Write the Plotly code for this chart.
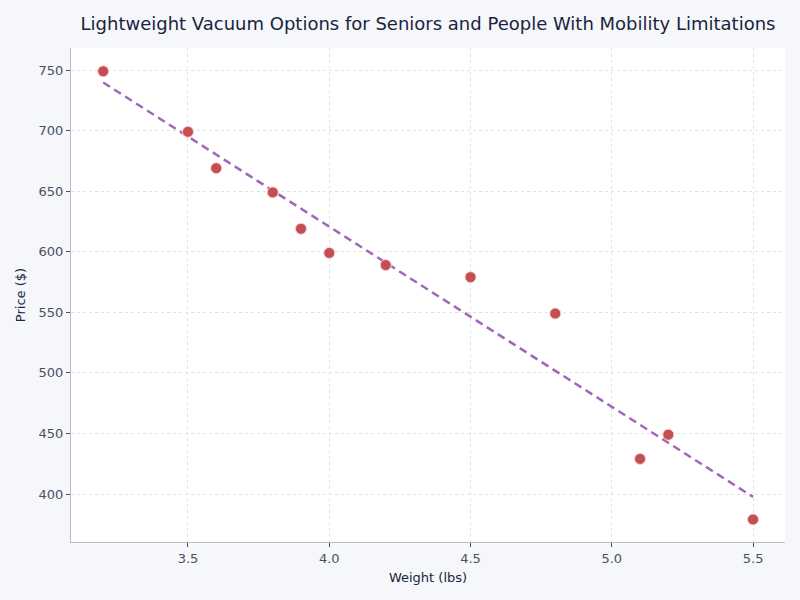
import numpy as np
import plotly.graph_objects as go

weight = [3.2, 3.5, 3.6, 3.8, 3.9, 4.0, 4.2, 4.5, 4.8, 5.1, 5.2, 5.5]
price = [749, 699, 669, 649, 619, 599, 589, 579, 549, 429, 449, 379]

slope, intercept = np.polyfit(weight, price, 1)
trend_x = [min(weight), max(weight)]
trend_y = [slope * x + intercept for x in trend_x]

fig = go.Figure()
fig.add_trace(go.Scatter(
    x=trend_x, y=trend_y, mode="lines",
    line=dict(color="#a066bd", width=2.5, dash="8px,5px"),
    showlegend=False, hoverinfo="skip"))
fig.add_trace(go.Scatter(
    x=weight, y=price, mode="markers",
    marker=dict(color="#c44e52", size=11, line=dict(color="#f5d0d0", width=1)),
    showlegend=False))

font = "DejaVu Sans, sans-serif"
fig.update_layout(
    width=800, height=600,
    margin=dict(l=71, r=15, t=48, b=58),
    paper_bgcolor="#f5f7fa", plot_bgcolor="#ffffff",
    font=dict(family=font, size=13, color="#4a5060"),
    title=dict(text="Lightweight Vacuum Options for Seniors and People With Mobility Limitations",
               x=0.5, xref="paper", xanchor="center", y=0.96, yanchor="middle",
               font=dict(family=font, size=18, color="#1a2440")),
    xaxis=dict(range=[3.086, 5.613], tickvals=[3.5, 4.0, 4.5, 5.0, 5.5],
               ticktext=["3.5", "4.0", "4.5", "5.0", "5.5"],
               title=dict(text="Weight (lbs)", font=dict(color="#1a2440", size=13), standoff=8),
               showgrid=True, gridcolor="#e2e2e2", griddash="3px,3px", gridwidth=1,
               showline=True, linecolor="#b8bcc8", linewidth=1,
               ticks="outside", ticklen=4, tickcolor="#4a5060", zeroline=False),
    yaxis=dict(range=[360.4, 768.2], tickvals=[400, 450, 500, 550, 600, 650, 700, 750],
               title=dict(text="Price ($)", font=dict(color="#1a2440", size=13), standoff=10),
               showgrid=True, gridcolor="#e2e2e2", griddash="3px,3px", gridwidth=1,
               showline=True, linecolor="#b8bcc8", linewidth=1,
               ticks="outside", ticklen=4, tickcolor="#4a5060", zeroline=False),
)
fig.write_html("out.html")
